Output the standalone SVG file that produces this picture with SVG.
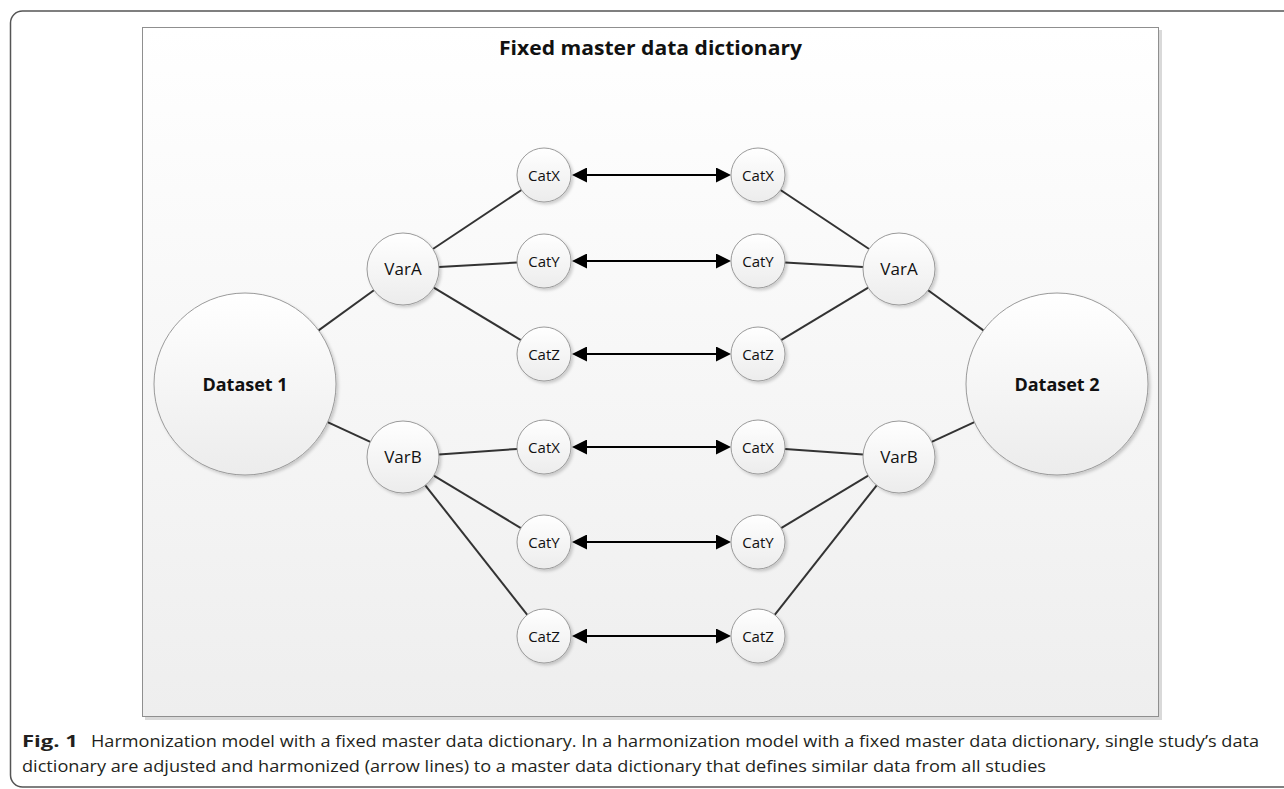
<svg xmlns="http://www.w3.org/2000/svg" width="1284" height="789" viewBox="0 0 1284 789">
<defs>
<linearGradient id="panelGrad" x1="0" y1="0" x2="0" y2="1">
<stop offset="0" stop-color="#ffffff"/>
<stop offset="1" stop-color="#eeeeee"/>
</linearGradient>
<linearGradient id="nodeGrad" x1="0" y1="0" x2="0" y2="1">
<stop offset="0" stop-color="#ffffff"/>
<stop offset="1" stop-color="#ececec"/>
</linearGradient>
<filter id="shadow" x="-20%" y="-20%" width="150%" height="150%">
<feDropShadow dx="2" dy="2" stdDeviation="1.5" flood-color="#000" flood-opacity="0.18"/>
</filter>
<marker id="ah" markerUnits="userSpaceOnUse" markerWidth="15" markerHeight="15" viewBox="0 0 15 15" refX="13" refY="7.5" orient="auto-start-reverse">
<path d="M0,0 L15,7.5 L0,15 z" fill="#000"/>
</marker>
</defs>
<style>
.node circle{fill:url(#nodeGrad);stroke:#9a9a9a;stroke-width:1;filter:url(#shadow)}
.lbl{font-family:"Open Sans","Liberation Sans",sans-serif;fill:#111;text-anchor:middle}
.cat{font-size:15px}
.var{font-size:17px}
.ds{font-size:18px;font-weight:bold}
.edge{stroke:#333;stroke-width:2;fill:none}
.arr{stroke:#000;stroke-width:2;fill:none;marker-start:url(#ah);marker-end:url(#ah)}
.cap{font-family:"Open Sans","Liberation Sans",sans-serif;font-size:16px;fill:#231f20}
</style>
<rect x="0" y="0" width="1284" height="789" fill="#ffffff"/>
<rect x="10.5" y="11" width="1300" height="776" rx="12" ry="12" fill="none" stroke="#555" stroke-width="1.5"/>
<g id="panel">
<rect x="145" y="30" width="1017" height="690" fill="#d9d9d9"/>
<rect x="142.5" y="27.5" width="1016" height="689" fill="url(#panelGrad)" stroke="#8f8f8f" stroke-width="1"/>
<text x="650.5" y="55" font-family="'Open Sans','Liberation Sans',sans-serif" font-size="20" font-weight="bold" fill="#111" text-anchor="middle" textLength="303" lengthAdjust="spacingAndGlyphs">Fixed master data dictionary</text>
</g>
<g id="connectors">
<line class="edge" x1="318.6" y1="330.4" x2="373.9" y2="290.2"/>
<line class="edge" x1="327.6" y1="422.2" x2="370.3" y2="441.9"/>
<line class="edge" x1="432.9" y1="249" x2="521.5" y2="190"/>
<line class="edge" x1="438.9" y1="267" x2="517" y2="262.5"/>
<line class="edge" x1="433.8" y1="287.6" x2="520.9" y2="340.1"/>
<line class="edge" x1="438.9" y1="454.5" x2="517.1" y2="448.9"/>
<line class="edge" x1="433.8" y1="475.6" x2="520.9" y2="528.1"/>
<line class="edge" x1="425.3" y1="485.3" x2="527.3" y2="614.8"/>
<line class="edge" x1="869.1" y1="249" x2="780.5" y2="190"/>
<line class="edge" x1="863.1" y1="267" x2="785" y2="262.5"/>
<line class="edge" x1="868.2" y1="287.6" x2="781.1" y2="340.1"/>
<line class="edge" x1="863.1" y1="454.5" x2="784.9" y2="448.9"/>
<line class="edge" x1="868.2" y1="475.6" x2="781.1" y2="528.1"/>
<line class="edge" x1="876.7" y1="485.3" x2="774.7" y2="614.8"/>
<line class="edge" x1="983.4" y1="330.4" x2="928.1" y2="290.2"/>
<line class="edge" x1="974.4" y1="422.2" x2="931.7" y2="441.9"/>
<line class="arr" x1="574" y1="175" x2="729" y2="175"/>
<line class="arr" x1="574" y1="261" x2="729" y2="261"/>
<line class="arr" x1="574" y1="354" x2="729" y2="354"/>
<line class="arr" x1="574" y1="447" x2="729" y2="447"/>
<line class="arr" x1="574" y1="542" x2="729" y2="542"/>
<line class="arr" x1="574" y1="636" x2="729" y2="636"/>
</g>
<g id="dataset1" class="node"><circle cx="245" cy="384" r="91"/><text class="lbl ds" x="245" y="391">Dataset 1</text></g>
<g id="dataset2" class="node"><circle cx="1057" cy="384" r="91"/><text class="lbl ds" x="1057" y="391">Dataset 2</text></g>
<g id="varA1" class="node"><circle cx="403" cy="269" r="36"/><text class="lbl var" x="403" y="275">VarA</text></g>
<g id="varB1" class="node"><circle cx="403" cy="457" r="36"/><text class="lbl var" x="403" y="463">VarB</text></g>
<g id="varA2" class="node"><circle cx="899" cy="269" r="36"/><text class="lbl var" x="899" y="275">VarA</text></g>
<g id="varB2" class="node"><circle cx="899" cy="457" r="36"/><text class="lbl var" x="899" y="463">VarB</text></g>
<g id="catXa1" class="node"><circle cx="544" cy="175" r="27"/><text class="lbl cat" x="544" y="180.5">CatX</text></g>
<g id="catYa1" class="node"><circle cx="544" cy="261" r="27"/><text class="lbl cat" x="544" y="266.5">CatY</text></g>
<g id="catZa1" class="node"><circle cx="544" cy="354" r="27"/><text class="lbl cat" x="544" y="359.5">CatZ</text></g>
<g id="catXb1" class="node"><circle cx="544" cy="447" r="27"/><text class="lbl cat" x="544" y="452.5">CatX</text></g>
<g id="catYb1" class="node"><circle cx="544" cy="542" r="27"/><text class="lbl cat" x="544" y="547.5">CatY</text></g>
<g id="catZb1" class="node"><circle cx="544" cy="636" r="27"/><text class="lbl cat" x="544" y="641.5">CatZ</text></g>
<g id="catXa2" class="node"><circle cx="758" cy="175" r="27"/><text class="lbl cat" x="758" y="180.5">CatX</text></g>
<g id="catYa2" class="node"><circle cx="758" cy="261" r="27"/><text class="lbl cat" x="758" y="266.5">CatY</text></g>
<g id="catZa2" class="node"><circle cx="758" cy="354" r="27"/><text class="lbl cat" x="758" y="359.5">CatZ</text></g>
<g id="catXb2" class="node"><circle cx="758" cy="447" r="27"/><text class="lbl cat" x="758" y="452.5">CatX</text></g>
<g id="catYb2" class="node"><circle cx="758" cy="542" r="27"/><text class="lbl cat" x="758" y="547.5">CatY</text></g>
<g id="catZb2" class="node"><circle cx="758" cy="636" r="27"/><text class="lbl cat" x="758" y="641.5">CatZ</text></g>
<g id="caption">
<text class="cap" x="22" y="747" font-weight="bold" textLength="56" lengthAdjust="spacingAndGlyphs">Fig. 1</text>
<text class="cap" x="91" y="747" textLength="1168" lengthAdjust="spacingAndGlyphs">Harmonization model with a fixed master data dictionary. In a harmonization model with a fixed master data dictionary, single study’s data</text>
<text class="cap" x="22" y="772" textLength="1024" lengthAdjust="spacingAndGlyphs">dictionary are adjusted and harmonized (arrow lines) to a master data dictionary that defines similar data from all studies</text>
</g>
</svg>
